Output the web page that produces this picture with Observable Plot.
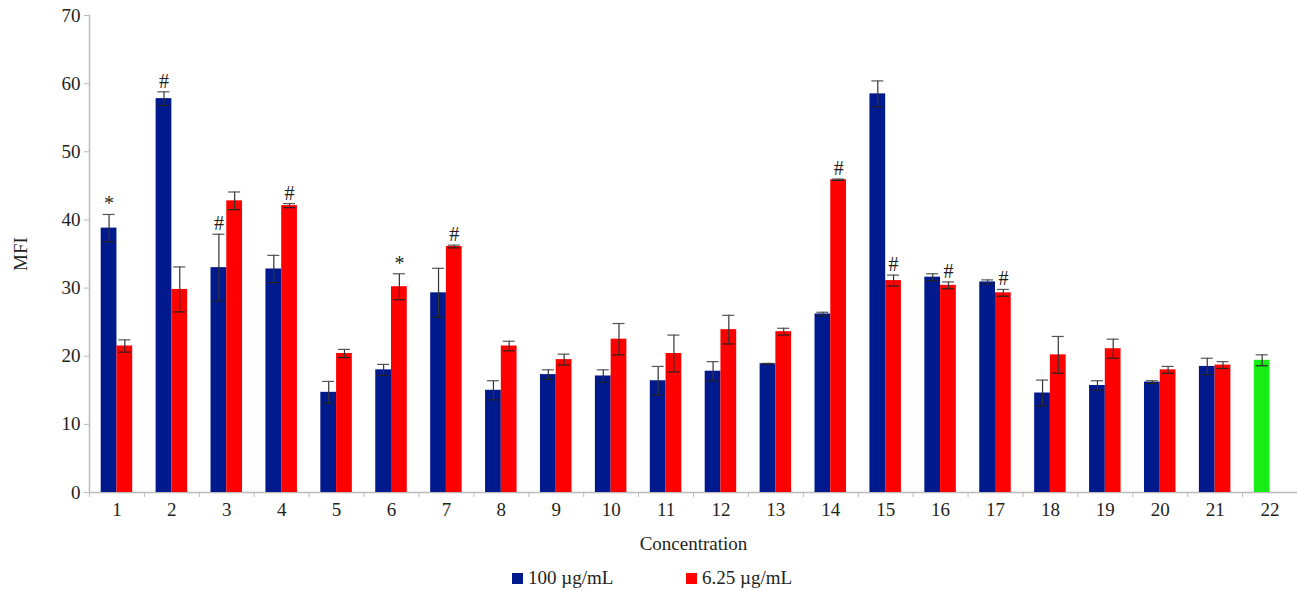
<!DOCTYPE html>
<html><head><meta charset="utf-8">
<script src="https://cdn.jsdelivr.net/npm/d3@7"></script>
<script src="https://cdn.jsdelivr.net/npm/@observablehq/plot@0.6"></script>
<style>
body{margin:0;background:#fff;font-family:"Liberation Serif","Times New Roman",serif;color:#231f20;}
#legend{position:relative;height:31px;width:1297px;font-size:19px;}
.item{position:absolute;top:8px;display:flex;align-items:center;gap:5px;line-height:20px;white-space:nowrap;}
.sw{width:11px;height:11px;display:inline-block;}
</style></head><body>
<div id="chart"></div>
<div id="legend"></div>
<script>
// ---- data ----
const categories = ["1","2","3","4","5","6","7","8","9","10","11","12","13","14","15","16","17","18","19","20","21","22"];
const seriesNames = ["100 µg/mL", "6.25 µg/mL"];
const v100 = [38.8, 57.8, 33.0, 32.8, 14.7, 18.0, 29.3, 15.0, 17.3, 17.1, 16.4, 17.8, 18.9, 26.2, 58.5, 31.6, 30.9, 14.6, 15.7, 16.2, 18.5, null];
const e100 = [2.0, 1.0, 4.9, 2.0, 1.6, 0.8, 3.6, 1.4, 0.7, 0.9, 2.1, 1.4, 0.05, 0.25, 1.9, 0.5, 0.3, 1.9, 0.7, 0.2, 1.2, null];
const v625 = [21.5, 29.8, 42.8, 42.1, 20.4, 30.2, 36.1, 21.5, 19.5, 22.5, 20.4, 23.9, 23.6, 45.9, 31.1, 30.4, 29.3, 20.2, 21.1, 18.0, 18.7, null];
const e625 = [0.9, 3.3, 1.3, 0.3, 0.6, 1.9, 0.2, 0.7, 0.8, 2.3, 2.7, 2.1, 0.5, 0.1, 0.8, 0.5, 0.5, 2.7, 1.4, 0.5, 0.5, null];
const controlCategory = ["22"];
const controlValue = [19.4];
const controlErr = [0.8];
const marksCat = ["1","2","3","4","6","7","14","15","16","17"];
const marksSeries = [0, 0, 0, 1, 1, 1, 1, 1, 1, 1];
const marksText = ["*","#","#","#","*","#","#","#","#","#"];
const yTicks = [0,10,20,30,40,50,60,70];

// ---- colours / layout ----
const colors = ["#00198c", "#ff0000", "#17ec17"];
const W = 1297, H = 560, ML = 89, MR = 0, MT = 15, MB = 68;
const bw = (W - ML - MR) / categories.length;
const barW = 15.75, capW = 12;

const rowsA = [], rowsB = [];
categories.forEach((c, i) => {
  if (v100[i] != null) rowsA.push({cat: c, value: v100[i], err: e100[i]});
  if (v625[i] != null) rowsB.push({cat: c, value: v625[i], err: e625[i]});
});
const rowsC = controlCategory.map((c, i) => ({cat: c, value: controlValue[i], err: controlErr[i]}));
const lookup = [rowsA, rowsB];
const annA = [], annB = [];
marksCat.forEach((c, i) => {
  const r = lookup[marksSeries[i]].find(d => d.cat === c);
  (marksSeries[i] === 0 ? annA : annB).push({cat: c, top: r.value + r.err, text: marksText[i]});
});

function errMarks(rows, dx) {
  return [
    Plot.ruleX(rows, {x: "cat", y1: d => d.value - d.err, y2: d => d.value + d.err, dx, stroke: "#333", strokeWidth: 1.2}),
    Plot.tickY(rows, {x: "cat", y: d => d.value + d.err, dx, insetLeft: (bw - capW) / 2, insetRight: (bw - capW) / 2, stroke: "#555", strokeWidth: 1.2}),
    Plot.tickY(rows, {x: "cat", y: d => d.value - d.err, dx, insetLeft: (bw - capW) / 2, insetRight: (bw - capW) / 2, stroke: "#222", strokeWidth: 1.2})
  ];
}

const chart = Plot.plot({
  width: W, height: H,
  marginLeft: ML, marginRight: MR, marginTop: MT, marginBottom: MB,
  style: {fontFamily: '"Liberation Serif","Times New Roman",serif', fontSize: "19px", color: "#231f20", background: "#fff"},
  x: {domain: categories, paddingInner: 0, paddingOuter: 0, round: false},
  y: {domain: [0, 70]},
  marks: [
    Plot.ruleY([0], {stroke: "#bbb", strokeWidth: 1.5}),
    Plot.frame({anchor: "left", stroke: "#bbb", strokeWidth: 1.5}),
    Plot.axisY({ticks: yTicks, tickSize: 5, tickPadding: 4, stroke: "#bbb", fontSize: 19, label: "MFI", labelAnchor: "center", labelArrow: "none", labelOffset: 76}),
    Plot.axisX({tickSize: 5, tickFormat: () => "", dx: -bw / 2, stroke: "#bbb", label: null}),
    Plot.axisX({tickSize: 0, tickPadding: 10, fontSize: 19, label: "Concentration", labelArrow: "none", labelOffset: 57}),
    Plot.barY(rowsA, {x: "cat", y: "value", fill: colors[0], insetLeft: bw / 2 - barW, insetRight: bw / 2}),
    Plot.barY(rowsB, {x: "cat", y: "value", fill: colors[1], insetLeft: bw / 2, insetRight: bw / 2 - barW}),
    Plot.barY(rowsC, {x: "cat", y: "value", fill: colors[2], insetLeft: bw / 2 - barW, insetRight: bw / 2}),
    ...errMarks(rowsA, -barW / 2),
    ...errMarks(rowsB, barW / 2),
    ...errMarks(rowsC, -barW / 2),
    Plot.text(annA, {x: "cat", y: "top", text: "text", dx: -barW / 2, dy: -4, lineAnchor: "bottom", fontSize: 20, fill: "#231f20"}),
    Plot.text(annB, {x: "cat", y: "top", text: "text", dx: barW / 2, dy: -4, lineAnchor: "bottom", fontSize: 20, fill: "#231f20"})
  ]
});
document.getElementById("chart").appendChild(chart);

// ---- legend ----
const legend = document.getElementById("legend");
const legendLeft = [512, 686];
seriesNames.forEach((name, i) => {
  const it = document.createElement("div");
  it.className = "item";
  it.style.left = legendLeft[i] + "px";
  const sw = document.createElement("span");
  sw.className = "sw";
  sw.style.background = colors[i];
  const tx = document.createElement("span");
  tx.textContent = name;
  it.appendChild(sw); it.appendChild(tx);
  legend.appendChild(it);
});
</script>
</body></html>
